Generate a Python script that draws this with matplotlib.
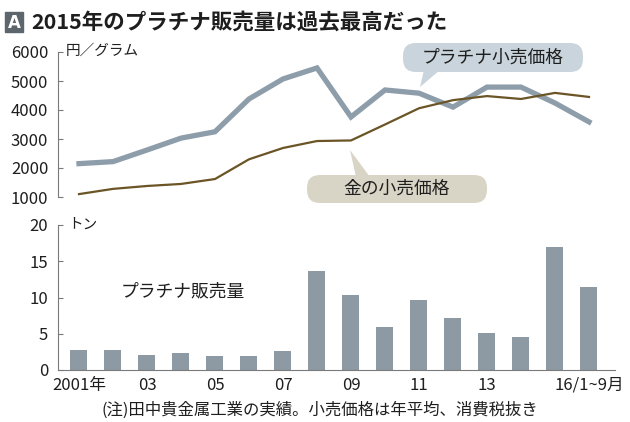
import matplotlib
matplotlib.use('Agg')
import matplotlib.pyplot as plt
from matplotlib.patches import FancyBboxPatch, Polygon

plt.rcParams['font.family'] = ['Noto Sans CJK JP', 'DejaVu Sans']

years = list(range(2001, 2017))
platinum_price = [2150, 2220, 2620, 3030, 3250, 4380, 5070, 5450,
                  3760, 4690, 4580, 4100, 4790, 4790, 4240, 3590]
gold_price = [1100, 1280, 1380, 1450, 1620, 2300, 2690, 2930,
              2950, 3500, 4060, 4340, 4480, 4380, 4590, 4450]
platinum_sales = [2.8, 2.8, 2.1, 2.4, 2.0, 2.0, 2.6, 13.7,
                  10.3, 6.0, 9.6, 7.2, 5.1, 4.6, 16.9, 11.4]
xtick_years = [2001, 2003, 2005, 2007, 2009, 2011, 2013, 2016]
xtick_labels = ['2001年', '03', '05', '07', '09', '11', '13', '16/1~9月']

W, H = 630, 422
plat_color = '#8e9daa'
gold_color = '#6b5526'
bar_color = '#8d9aa4'
spine_color = '#7a7a7a'
text_color = '#1e1e1e'

fig = plt.figure(figsize=(W / 100, H / 100), dpi=100)

def rect(x0, y0, x1, y1):
    return [x0 / W, 1 - y1 / H, (x1 - x0) / W, (y1 - y0) / H]

xlim = (2001 - 21 / 34, 2001 + 536 / 34)

# price lines
ax1 = fig.add_axes(rect(58, 52, 615, 197))
ax1.plot(years, platinum_price, color=plat_color, lw=3.8, solid_joinstyle='miter')
ax1.plot(years, gold_price, color=gold_color, lw=1.6)
ax1.set_xlim(*xlim)
ax1.set_ylim(1000, 6000)
ax1.set_yticks(range(1000, 6001, 1000))
ax1.set_xticks([])
for s in ['top', 'right', 'bottom']:
    ax1.spines[s].set_visible(False)
ax1.spines['left'].set_color(spine_color)
ax1.spines['left'].set_linewidth(0.8)
ax1.tick_params(axis='y', direction='in', length=3.5, width=0.8, color=spine_color,
                labelsize=12, labelcolor=text_color, pad=7)
ax1.text(0.013, 1.012, '円／グラム', transform=ax1.transAxes, fontsize=10.5,
         color=text_color, va='center', ha='left')

# sales bars
ax2 = fig.add_axes(rect(58, 225, 615, 370))
ax2.bar(years, platinum_sales, width=0.5, color=bar_color)
ax2.set_xlim(*xlim)
ax2.set_ylim(0, 20)
ax2.set_yticks(range(0, 21, 5))
ax2.set_xticks(xtick_years)
ax2.set_xticklabels(xtick_labels)
for s in ['top', 'right']:
    ax2.spines[s].set_visible(False)
for s in ['left', 'bottom']:
    ax2.spines[s].set_color(spine_color)
    ax2.spines[s].set_linewidth(0.8)
ax2.tick_params(axis='y', direction='in', length=3.5, width=0.8, color=spine_color,
                labelsize=12, labelcolor=text_color, pad=7)
ax2.tick_params(axis='x', length=0, labelsize=12, labelcolor=text_color, pad=5)
ax2.text(0.018, 1.0, 'トン', transform=ax2.transAxes, fontsize=10.5,
         color=text_color, va='center', ha='left')
ax2.text(2004.06, 10.8, 'プラチナ販売量', fontsize=12.8, color=text_color,
         ha='center', va='center')

# overlay in pixel units for title box and callouts
ov = fig.add_axes([0, 0, 1, 1], facecolor='none')
ov.set_xlim(0, W)
ov.set_ylim(H, 0)
ov.axis('off')

ov.add_patch(plt.Rectangle((5, 12), 18, 20, color='#5d666c'))
ov.text(14, 22.5, 'A', color='white', fontsize=12, fontweight='bold',
        ha='center', va='center', family='DejaVu Sans')
ov.text(31, 22, '2015年のプラチナ販売量は過去最高だった', fontsize=15.5,
        fontweight='bold', color=text_color, ha='left', va='center')

def bubble(x0, y0, x1, y1, tri, label, fc):
    ov.add_patch(Polygon(tri, closed=True, fc=fc, ec='none'))
    ov.add_patch(FancyBboxPatch((x0, y0), x1 - x0, y1 - y0,
                                boxstyle='round,pad=0,rounding_size=13',
                                fc=fc, ec='none'))
    ov.text((x0 + x1) / 2, (y0 + y1) / 2, label, fontsize=12.8,
            color=text_color, ha='center', va='center')

bubble(403, 43, 583, 72, [(424, 70), (440, 70), (420, 87)],
       'プラチナ小売価格', '#c9d4dc')
bubble(307, 175, 487, 203, [(356, 177), (370, 177), (350, 150)],
       '金の小売価格', '#d9d5c6')

fig.text(320 / W, 1 - 410 / H, '(注)田中貴金属工業の実績。小売価格は年平均、消費税抜き',
         fontsize=11.8, color=text_color, ha='center', va='center')

fig.savefig('out.png', dpi=100)
